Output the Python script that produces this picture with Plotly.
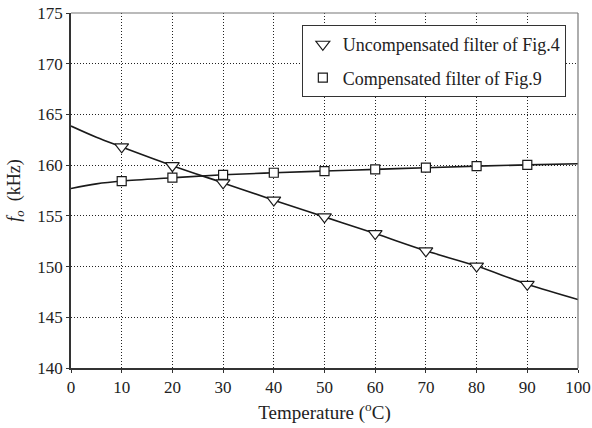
import plotly.graph_objects as go

# Temperatures (°C) and frequencies (kHz)
temp_line = [0, 5, 10, 20, 30, 40, 50, 60, 70, 80, 90, 100]
uncomp_line = [163.85, 162.75, 161.8, 159.95, 158.25, 156.55, 154.9, 153.25, 151.55, 150.05, 148.25, 146.75]
comp_line = [157.7, 158.15, 158.43, 158.76, 159.05, 159.25, 159.42, 159.58, 159.75, 159.9, 160.03, 160.13]

temp_marks = [10, 20, 30, 40, 50, 60, 70, 80, 90]
uncomp_marks = [161.8, 159.95, 158.25, 156.55, 154.9, 153.25, 151.55, 150.05, 148.25]
comp_marks = [158.43, 158.76, 159.05, 159.25, 159.42, 159.58, 159.75, 159.9, 160.03]

names = ["Uncompensated filter of Fig.4", "Compensated filter of Fig.9"]

FONT = "'Liberation Serif', 'Times New Roman', serif"

fig = go.Figure()
fig.add_trace(go.Scatter(x=temp_line, y=uncomp_line, mode="lines", line=dict(color="#1a1a1a", width=1.6, shape="spline"),
                         showlegend=False, hoverinfo="skip"))
fig.add_trace(go.Scatter(x=temp_line, y=comp_line, mode="lines", line=dict(color="#1a1a1a", width=1.6, shape="spline"),
                         showlegend=False, hoverinfo="skip"))
fig.add_trace(go.Scatter(x=temp_marks, y=uncomp_marks, mode="markers", name=names[0], legendgroup="a",
                         marker=dict(symbol="triangle-down", size=12, color="white", line=dict(color="#1a1a1a", width=1.2))))
fig.add_trace(go.Scatter(x=temp_marks, y=comp_marks, mode="markers", name=names[1], legendgroup="b",
                         marker=dict(symbol="square", size=9, color="white", line=dict(color="#1a1a1a", width=1.2))))

fig.update_layout(
    width=592, height=428,
    margin=dict(l=71, r=14, t=13, b=60),
    paper_bgcolor="white", plot_bgcolor="white",
    font=dict(family=FONT, size=17, color="#222"),
    legend=dict(x=0.976, y=0.966, xanchor="right", yanchor="top",
                bgcolor="white", bordercolor="#333", borderwidth=1,
                font=dict(family=FONT, size=18, color="#222"),
                itemwidth=30, traceorder="grouped", tracegroupgap=7),
    xaxis=dict(range=[0, 100], tickvals=list(range(0, 101, 10)),
               showgrid=True, gridcolor="#222", griddash="1px,2px", gridwidth=1,
               showline=True, linecolor="#333", linewidth=1.5, mirror=False,
               ticks="outside", ticklen=3, tickcolor="#333", automargin=False,
               title=dict(text="Temperature (<sup>o</sup>C)", font=dict(family=FONT, size=19), standoff=10),
               zeroline=False),
    yaxis=dict(range=[140, 175], tickvals=list(range(140, 176, 5)),
               showgrid=True, gridcolor="#222", griddash="1px,2px", gridwidth=1,
               showline=True, linecolor="#333", linewidth=1.5, mirror=False,
               ticks="outside", ticklen=3, tickcolor="#333", automargin=False,
               title=dict(text="<i>f<sub>o</sub></i>  (kHz)", font=dict(family=FONT, size=18), standoff=12),
               zeroline=False),
)
# top and right frame (gray)
fig.add_shape(type="line", xref="paper", yref="paper", x0=0, x1=1, y0=1, y1=1, line=dict(color="#777", width=1.2))
fig.add_shape(type="line", xref="paper", yref="paper", x0=1, x1=1, y0=0, y1=1, line=dict(color="#777", width=1.2))

fig.write_html("out.html")
